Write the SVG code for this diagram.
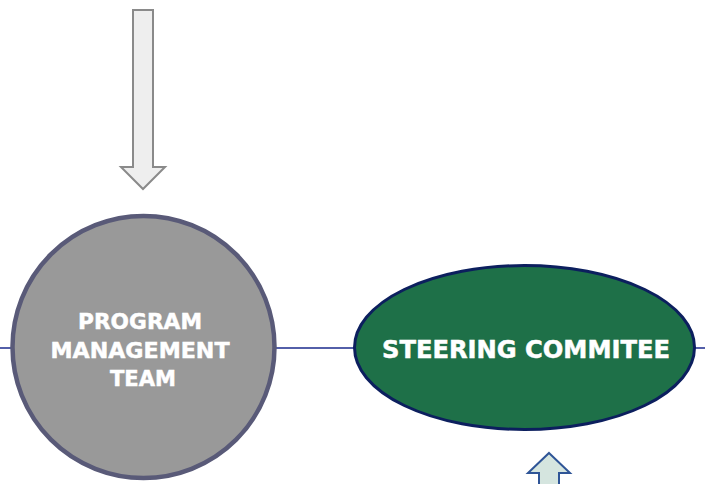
<svg xmlns="http://www.w3.org/2000/svg" width="705" height="484" viewBox="0 0 705 484">
<style>
.lbl{font-family:"DejaVu Sans","Liberation Sans",sans-serif;font-weight:bold;fill:#ffffff;stroke:#ffffff;stroke-width:0.5;text-anchor:middle}
.conn{stroke:#1a2a8c;stroke-width:1.5;fill:none}
</style>
<rect width="705" height="484" fill="#ffffff"/>
<g id="connectors">
<line class="conn" x1="0" y1="348" x2="12" y2="348"/>
<line class="conn" x1="276" y1="348" x2="355" y2="348"/>
<line class="conn" x1="694" y1="348" x2="705" y2="348"/>
<path id="arrow-down" d="M133,10 H153 V167 H165 L143,189 L121,167 H133 Z" fill="#eeeeee" stroke="#8a8a8a" stroke-width="2"/>
<path id="arrow-up" d="M549,453 L570,473 H559 V490 H539 V473 H528 Z" fill="#d5e5df" stroke="#2f5597" stroke-width="2"/>
</g>
<g id="program-management-team">
<circle cx="143.5" cy="347" r="131" fill="#999999" stroke="#595a78" stroke-width="4.5"/>
<text class="lbl" x="140" y="329" font-size="22" textLength="124" lengthAdjust="spacingAndGlyphs">PROGRAM</text>
<text class="lbl" x="140" y="358" font-size="22" textLength="179" lengthAdjust="spacingAndGlyphs">MANAGEMENT</text>
<text class="lbl" x="143" y="386" font-size="22" textLength="66" lengthAdjust="spacingAndGlyphs">TEAM</text>
</g>
<g id="steering-committee">
<ellipse cx="524.5" cy="347.5" rx="170" ry="82" fill="#1e7048" stroke="#0c1f5e" stroke-width="3"/>
<text class="lbl" x="526" y="357.5" font-size="24" textLength="288" lengthAdjust="spacingAndGlyphs">STEERING COMMITEE</text>
</g>
</svg>
